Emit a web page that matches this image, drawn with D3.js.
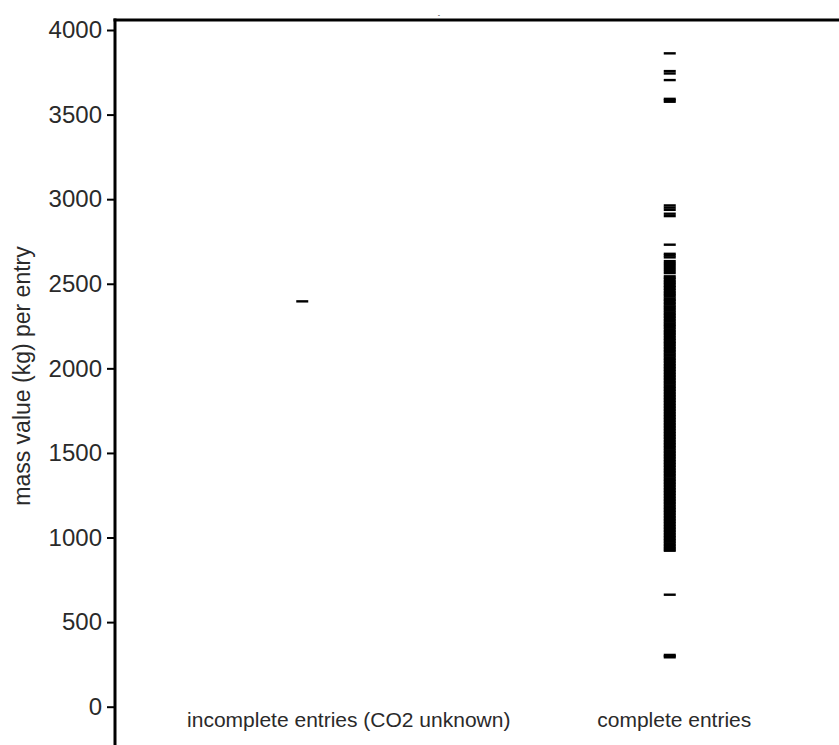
<!DOCTYPE html>
<html>
<head>
<meta charset="utf-8">
<script src="https://cdn.jsdelivr.net/npm/d3@7"></script>
<style>
  html, body { margin: 0; padding: 0; background: #fff; }
  svg { display: block; }
  text { font-family: "Liberation Sans", Arial, sans-serif; fill: #2a2a2a; }
</style>
</head>
<body>
<svg id="chart" width="839" height="745"></svg>
<script>
// ---- data ----
const categories = ["incomplete entries (CO2 unknown)", "complete entries"];
const incompleteValues = [2396];
const completeValues = [
  3862, 3757, 3743, 3704, 3593, 3585, 3576,
  2963, 2950, 2937, 2914, 2900, 2731,
  2677, 2667, 2656,
  2634, 2622, 2611, 2599, 2587, 2575, 2563,
  2544, 2535, 2526, 2515, 2507, 2498, 2488, 2480, 2470, 2461, 2450, 2442, 2433, 2424, 2413, 2405,
  2396, 2386, 2378, 2367, 2360, 2350, 2341, 2331, 2322, 2313, 2304, 2295, 2285, 2276, 2266, 2258,
  2249, 2240, 2230, 2220, 2212, 2203, 2194, 2184, 2175, 2166, 2156, 2148, 2139, 2129, 2120, 2111,
  2102, 2093, 2083, 2075, 2065, 2056, 2047, 2038, 2028, 2019, 2010, 2001, 1992, 1983, 1973, 1964,
  1955, 1946, 1937, 1928, 1918, 1910, 1900, 1891, 1882, 1873, 1864, 1854, 1845, 1836, 1827, 1818,
  1809, 1800, 1790, 1781, 1772, 1763, 1754, 1745, 1735, 1726, 1717, 1708, 1699, 1690, 1680, 1671,
  1662, 1653, 1644, 1635, 1625, 1616, 1607, 1598, 1589, 1580, 1570, 1561, 1552, 1543, 1534, 1525,
  1515, 1506, 1497, 1488, 1479, 1470, 1460, 1451, 1442, 1433, 1424, 1415, 1405, 1396, 1387, 1378,
  1369, 1360, 1350, 1341, 1332, 1323, 1314, 1305, 1295, 1286, 1277, 1268, 1259, 1250, 1240, 1231,
  1222, 1213, 1204, 1195, 1185, 1176, 1167, 1158, 1149, 1140, 1130, 1121, 1112, 1103, 1094, 1085,
  1075, 1066, 1057, 1048, 1039, 1030, 1020, 1011, 1002, 993, 984, 975, 965, 956, 947, 938, 929, 922,
  662, 306, 299, 292
];
const yTicks = [0, 500, 1000, 1500, 2000, 2500, 3000, 3500, 4000];
const yLabel = "mass value (kg) per entry";
const titleText = "-";

const series = [
  { cat: categories[0], values: incompleteValues },
  { cat: categories[1], values: completeValues }
];

// ---- layout ----
const svg = d3.select("#chart");
const axisX = 115;
const frameTop = 20;
const H = 745, W = 839;

const y = d3.scaleLinear().domain([0, 4000]).range([706.7, 30]);
const xMarks = d3.scalePoint().domain(categories).range([118.5, 853.5]).padding(0.5);
const xLabels = d3.scalePoint().domain(categories).range([186, 837]).padding(0.5);

// marks
const dashHalf = 6;
const pts = series.flatMap(s => s.values.map(v => ({ cat: s.cat, v })));
svg.append("g").selectAll("line").data(pts).join("line")
  .attr("x1", d => xMarks(d.cat) - dashHalf)
  .attr("x2", d => xMarks(d.cat) + dashHalf)
  .attr("y1", d => y(d.v))
  .attr("y2", d => y(d.v))
  .attr("stroke", "#000")
  .attr("stroke-width", 2.4);

// y axis
const yAxis = d3.axisLeft(y).tickValues(yTicks).tickSize(7).tickPadding(5).tickFormat(d3.format("d"));
const gy = svg.append("g").attr("transform", `translate(${axisX - 1},0)`).call(yAxis);
gy.select(".domain").remove();
gy.selectAll(".tick line").attr("stroke", "#000").attr("stroke-width", 2);
gy.selectAll(".tick text")
  .style("font-family", '"Liberation Sans", Arial, sans-serif')
  .style("font-size", "24px")
  .attr("fill", "#2a2a2a");

// frame lines
svg.append("line")
  .attr("x1", axisX).attr("x2", axisX)
  .attr("y1", frameTop - 1.5).attr("y2", H)
  .attr("stroke", "#000").attr("stroke-width", 3);
svg.append("line")
  .attr("x1", axisX - 1.5).attr("x2", W)
  .attr("y1", frameTop).attr("y2", frameTop)
  .attr("stroke", "#000").attr("stroke-width", 3);

// category labels
svg.append("g").selectAll("text").data(categories).join("text")
  .attr("x", d => xLabels(d))
  .attr("y", 726.5)
  .attr("text-anchor", "middle")
  .style("font-size", "21px")
  .text(d => d);

// y label
svg.append("text")
  .attr("transform", "translate(30,376) rotate(-90)")
  .attr("text-anchor", "middle")
  .style("font-size", "23px")
  .text(yLabel);

// tiny title
svg.append("text")
  .attr("x", 439).attr("y", 17)
  .attr("text-anchor", "middle")
  .style("font-size", "7px")
  .attr("fill", "#666")
  .text(titleText);
</script>
</body>
</html>
